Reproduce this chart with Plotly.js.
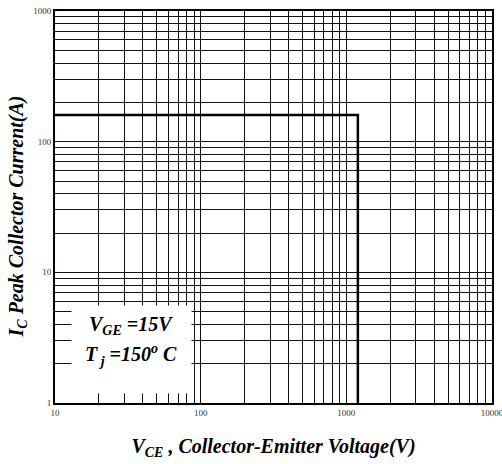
<!DOCTYPE html>
<html>
<head>
<meta charset="utf-8">
<script src="https://cdn.plot.ly/plotly-3.0.1.min.js"></script>
<style>html,body{margin:0;padding:0;background:#fff;}#chart{width:502px;height:464px;}</style>
</head>
<body>
<div id="chart"></div>
<script>
// Safe operating boundary (RBSOA): V_CE (V) vs I_C peak (A)
var vce = [10, 1200, 1200];
var ic  = [160, 160, 1];

// Major tick labels and minor gridline values
var xTicks = [10, 100, 1000, 10000];
var xTickText = ['10', '100', '1000', '10000'];
var xMinor = [20,30,40,50,60,70,80,90,200,300,400,500,600,700,800,900,2000,3000,4000,5000,6000,7000,8000,9000];
var yTicks = [1, 10, 100, 1000];
var yTickText = ['1', '10', '100', '1000'];
var yMinor = [2,3,4,5,6,7,8,9,20,30,40,50,60,70,80,90,200,300,400,500,600,700,800,900];

var serif = 'Liberation Serif, Times New Roman, serif';

var trace = {
  x: vce, y: ic, mode: 'lines', type: 'scatter',
  line: {color: '#000', width: 2.5}, hoverinfo: 'skip', showlegend: false
};

var layout = {
  width: 502, height: 464,
  margin: {l: 55, r: 10, t: 11, b: 61},
  paper_bgcolor: '#fff', plot_bgcolor: '#fff',
  xaxis: {
    type: 'log', range: [1, 4],
    tickmode: 'array', tickvals: xTicks, ticktext: xTickText, ticks: '',
    ticklabeloverflow: 'allow',
    showgrid: true, gridcolor: '#111', gridwidth: 1,
    minor: {tickmode: 'array', tickvals: xMinor, showgrid: true, gridcolor: '#111', gridwidth: 1, ticks: ''},
    showline: true, linecolor: '#000', linewidth: 2, mirror: true,
    tickfont: {family: serif, size: 9, color: '#333'},
    title: {text: '<b><i>V<sub>CE</sub> , Collector-Emitter Voltage(V)</i></b>',
            font: {family: serif, size: 20, color: '#000'}, standoff: 22},
    zeroline: false
  },
  yaxis: {
    type: 'log', range: [0, 3],
    tickmode: 'array', tickvals: yTicks, ticktext: yTickText, ticks: '',
    ticklabeloverflow: 'allow',
    showgrid: true, gridcolor: '#111', gridwidth: 1,
    minor: {tickmode: 'array', tickvals: yMinor, showgrid: true, gridcolor: '#111', gridwidth: 1, ticks: ''},
    showline: true, linecolor: '#000', linewidth: 2, mirror: true,
    tickfont: {family: serif, size: 9, color: '#333'},
    zeroline: false
  },
  annotations: [
    {xref: 'paper', yref: 'paper', x: (17-55)/437, y: (403-216.5)/392, xanchor: 'center', yanchor: 'middle',
     textangle: -90, showarrow: false,
     text: '<b><i>I<sub>C</sub> Peak Collector Current(A)</i></b>',
     font: {family: serif, size: 20, color: '#000'}},
    {xref: 'paper', yref: 'paper', x: 0.175, y: 0.1365, xanchor: 'center', yanchor: 'middle',
     text: ' ', showarrow: false, bgcolor: '#fff', width: 119, height: 87, borderpad: 0},
    {xref: 'paper', yref: 'paper', x: 0.175, y: (403-325)/392, xanchor: 'center', yanchor: 'middle',
     text: '<b><i>V<sub>GE</sub> =15V</i></b>', showarrow: false,
     font: {family: serif, size: 20, color: '#000'}},
    {xref: 'paper', yref: 'paper', x: 0.175, y: (403-355)/392, xanchor: 'center', yanchor: 'middle',
     text: '<b><i>T<sub> j</sub> =150<sup>o</sup> C</i></b>', showarrow: false,
     font: {family: serif, size: 20, color: '#000'}}
  ]
};

Plotly.newPlot('chart', [trace], layout, {displayModeBar: false, staticPlot: true});
</script>
</body>
</html>
